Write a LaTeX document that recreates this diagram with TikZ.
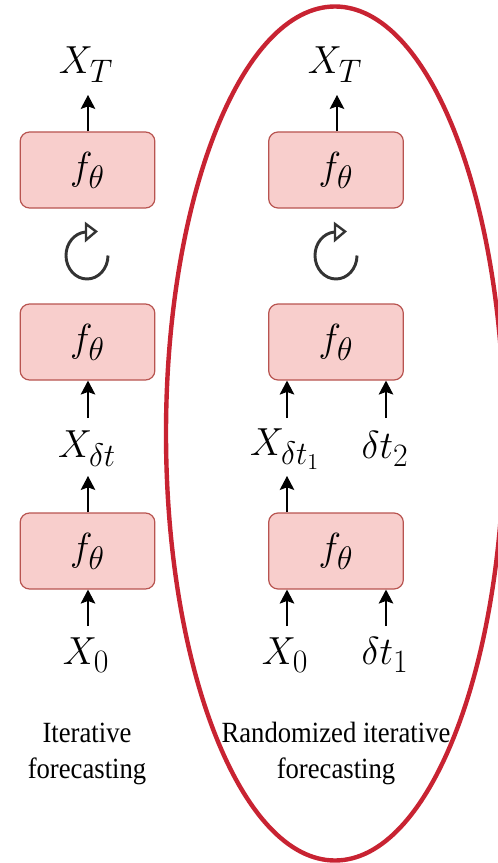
\documentclass[tikz,border=0pt]{standalone}
\usepackage[no-math]{fontspec}
\usepackage{graphicx}
\setmainfont{Liberation Serif}
\usetikzlibrary{arrows.meta}
\definecolor{myred}{RGB}{184,84,80}
\definecolor{mypink}{RGB}{248,206,204}
\definecolor{mygray}{RGB}{51,51,51}
\definecolor{ellred}{RGB}{200,35,50}
\newcommand\mth[1]{\scalebox{1.15}[1.18]{$#1$}}
\newcommand\captxt[2]{\scalebox{1}[1.1]{\begin{tabular}{@{}c@{}}#1\\#2\end{tabular}}}
\tikzset{
 fbox/.style={draw=myred,fill=mypink,rounded corners=7pt,line width=0.9pt,minimum width=101pt,minimum height=57pt,inner sep=0pt,font=\fontsize{31}{33}\selectfont},
 lab/.style={inner sep=0pt,font=\fontsize{30}{32}\selectfont,text=black},
 captext/.style={inner sep=0pt,align=center,font=\fontsize{20}{24.5}\selectfont},
 arr/.style={-{Stealth[length=10.5pt,width=11pt,inset=2pt]},line width=0.8pt,black},
 loopline/.style={line width=2.2pt,draw=mygray},
 loophead/.style={line width=1.8pt,draw=mygray,fill=white,line join=miter},
}
\begin{document}
\begin{tikzpicture}[x=0.75pt,y=-0.75pt]
\useasboundingbox (0,0) rectangle (498,863);
\draw[ellred,line width=3.3pt] (335,433.5) ellipse [x radius=169,y radius=427];
\node[fbox] (a3) at (87.5,170) {\mth{f_\theta}};
\node[fbox] (a2) at (87.5,342) {\mth{f_\theta}};
\node[fbox] (a1) at (87.5,551) {\mth{f_\theta}};
\node[fbox] (b3) at (336,170) {\mth{f_\theta}};
\node[fbox] (b2) at (336,342) {\mth{f_\theta}};
\node[fbox] (b1) at (336,551) {\mth{f_\theta}};
\node[lab] (xt1) at (86,65) {\mth{X_T}};
\node[lab] (xd1) at (87,449) {\mth{X_{\delta t}}};
\node[lab] (x01) at (86,655) {\mth{X_0}};
\node[lab] (xt2) at (335,65) {\mth{X_T}};
\node[lab] (xd2) at (285,449) {\mth{X_{\delta t_1}}};
\node[lab] (dt2) at (385,449) {\mth{\delta t_2}};
\node[lab] (x02) at (285,655) {\mth{X_0}};
\node[lab] (dt1) at (385,655) {\mth{\delta t_1}};
\coordinate (xt1s) at (88,95);
\coordinate (xt2s) at (337,95);
\coordinate (xd1n) at (88,418);
\coordinate (xd1s) at (88,476);
\coordinate (x01n) at (88,626);
\coordinate (xd2n) at (287,418);
\coordinate (xd2s) at (287,476);
\coordinate (dt2n) at (386,418);
\coordinate (x02n) at (287,626);
\coordinate (dt1n) at (386,626);
\draw[arr] (a3.north -| xt1s) -- (xt1s);
\draw[arr] (b3.north -| xt2s) -- (xt2s);
\draw[arr] (xd1n) -- (xd1n |- a2.south);
\draw[arr] (a1.north -| xd1s) -- (xd1s);
\draw[arr] (x01n) -- (x01n |- a1.south);
\draw[arr] (xd2n) -- (xd2n |- b2.south);
\draw[arr] (dt2n) -- (dt2n |- b2.south);
\draw[arr] (b1.north -| xd2s) -- (xd2s);
\draw[arr] (x02n) -- (x02n |- b1.south);
\draw[arr] (dt1n) -- (dt1n |- b1.south);
\foreach \cx in {87,336}{
 \draw[loopline] (\cx+21,255.5) arc [start angle=0,delta angle=-265,x radius=21,y radius=-23.5];
 \draw[loophead] (\cx-1,224) -- (\cx+9,231.5) -- (\cx-1,240) -- cycle;
}
\node[captext] (c1) at (87,753) {\captxt{Iterative}{forecasting}};
\node[captext] (c2) at (336,753) {\captxt{Randomized iterative}{forecasting}};
\end{tikzpicture}
\end{document}
